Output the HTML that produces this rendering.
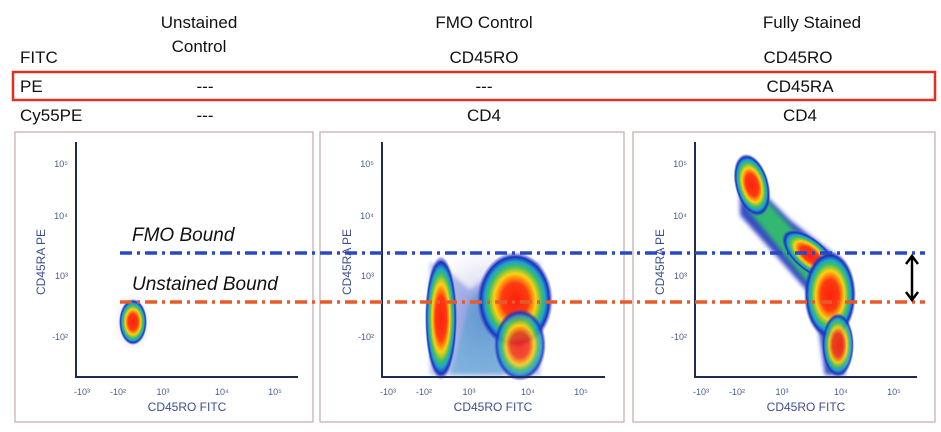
<!DOCTYPE html>
<html><head><meta charset="utf-8"><style>
body{margin:0;background:#fff;width:941px;height:432px;overflow:hidden}
svg{display:block}
.h{font-family:"Liberation Sans",sans-serif;font-size:17px;fill:#111}
.t{font-family:"Liberation Sans",sans-serif;font-size:9px;fill:#4a5a8a}
.a{font-family:"Liberation Sans",sans-serif;font-size:12px;fill:#3d4d90}
.i{font-family:"Liberation Sans",sans-serif;font-size:19px;font-style:italic;fill:#111}
</style></head><body>
<svg width="941" height="432" viewBox="0 0 941 432">
<defs>
<radialGradient id="g"><stop offset="0" stop-color="#ff2010"/><stop offset="0.35" stop-color="#ff3a10"/><stop offset="0.55" stop-color="#ffd010"/><stop offset="0.7" stop-color="#40c060"/><stop offset="0.8" stop-color="#20a0d0"/><stop offset="0.9" stop-color="#1a30c0"/><stop offset="1" stop-color="#3a40c0" stop-opacity="0"/></radialGradient>
<radialGradient id="gb"><stop offset="0" stop-color="#30b090"/><stop offset="0.5" stop-color="#20a0d0"/><stop offset="0.8" stop-color="#2040c0" stop-opacity="0.8"/><stop offset="1" stop-color="#6060c0" stop-opacity="0"/></radialGradient>
<radialGradient id="gl"><stop offset="0" stop-color="#8080d0" stop-opacity="0.6"/><stop offset="1" stop-color="#c0c0e8" stop-opacity="0"/></radialGradient>
<filter id="bl"><feGaussianBlur stdDeviation="2"/></filter>
</defs>
<text class="h" x="199" y="28" text-anchor="middle">Unstained</text>
<text class="h" x="199" y="52" text-anchor="middle">Control</text>
<text class="h" x="484" y="28" text-anchor="middle">FMO Control</text>
<text class="h" x="812" y="28" text-anchor="middle">Fully Stained</text>
<text class="h" x="20" y="63">FITC</text>
<text class="h" x="484" y="63" text-anchor="middle">CD45RO</text>
<text class="h" x="798" y="63" text-anchor="middle">CD45RO</text>
<text class="h" x="20" y="92">PE</text>
<text class="h" x="205" y="92" text-anchor="middle">---</text>
<text class="h" x="484" y="92" text-anchor="middle">---</text>
<text class="h" x="800" y="92" text-anchor="middle">CD45RA</text>
<text class="h" x="20" y="121">Cy55PE</text>
<text class="h" x="205" y="121" text-anchor="middle">---</text>
<text class="h" x="484" y="121" text-anchor="middle">CD4</text>
<text class="h" x="800" y="121" text-anchor="middle">CD4</text>
<rect x="13" y="72" width="922" height="28" fill="none" stroke="#e03020" stroke-width="2.5"/>
<g fill="none" stroke="#c8a8a8" stroke-width="1.2">
<rect x="15" y="132" width="298" height="290"/>
<rect x="320" y="132" width="304" height="290"/>
<rect x="633" y="132" width="302" height="290"/>
</g>
<!-- panel1 -->
<ellipse cx="133" cy="322" rx="19" ry="30" fill="url(#gl)"/>
<ellipse cx="133" cy="322" rx="14" ry="23" fill="url(#g)"/>
<!-- panel2 -->
<ellipse cx="485" cy="315" rx="60" ry="70" fill="url(#gl)"/>
<path d="M445 268L470 290L500 268L540 262V375H430V262Z" fill="#3050c8" opacity="0.35" filter="url(#bl)"/>
<path d="M470 300L500 275L505 375H450Z" fill="#30a0c8" opacity="0.4" filter="url(#bl)"/>
<ellipse cx="441" cy="318" rx="16" ry="62" fill="url(#g)"/>
<ellipse cx="515" cy="300" rx="38" ry="48" fill="url(#g)"/>
<ellipse cx="520" cy="345" rx="26" ry="36" fill="url(#g)" opacity="0.85"/>
<!-- panel3 -->
<path d="M740 170 L790 220 L835 255 L845 300 L845 375 L825 375 L815 300 L780 260 L740 215 Z" fill="#2038c0" filter="url(#bl)" opacity="0.9"/>
<path d="M748 180 L792 228 L830 260 L838 300 L838 370 L830 370 L822 300 L785 255 L748 210 Z" fill="#30b870" filter="url(#bl)"/>
<ellipse cx="752" cy="185" rx="17" ry="32" fill="url(#g)" transform="rotate(-15 752 185)"/>
<ellipse cx="810" cy="255" rx="34" ry="16" fill="url(#g)" transform="rotate(40 810 255)"/>
<ellipse cx="830" cy="295" rx="26" ry="44" fill="url(#g)"/>
<ellipse cx="838" cy="345" rx="16" ry="32" fill="url(#g)" opacity="0.9"/>
<g stroke="#1d2d50" stroke-width="2" fill="none">
<path d="M76 142V377H298"/>
<path d="M382 142V377H605"/>
<path d="M695 142V377H917"/>
</g>
<g id="tk">
<text class="t" x="68" y="167" text-anchor="end">10⁵</text>
<text class="t" x="68" y="219" text-anchor="end">10⁴</text>
<text class="t" x="68" y="279" text-anchor="end">10³</text>
<text class="t" x="68" y="340" text-anchor="end">-10²</text>
<text class="t" x="82" y="395" text-anchor="middle">-10³</text>
<text class="t" x="118" y="395" text-anchor="middle">-10²</text>
<text class="t" x="163" y="395" text-anchor="middle">10³</text>
<text class="t" x="222" y="395" text-anchor="middle">10⁴</text>
<text class="t" x="275" y="395" text-anchor="middle">10⁵</text>
<text class="a" x="187" y="411" text-anchor="middle">CD45RO FITC</text>
<text class="a" transform="translate(45 262) rotate(-90)" text-anchor="middle">CD45RA PE</text>
</g>
<use href="#tk" x="306"/>
<use href="#tk" x="619"/>
<g stroke-width="3.5" stroke-dasharray="12 5 3 5" fill="none">
<path d="M120 253H925" stroke="#2848c8"/>
<path d="M120 302H925" stroke="#e85a2a"/>
</g>
<text class="i" x="132" y="241">FMO Bound</text>
<text class="i" x="132" y="290">Unstained Bound</text>
<g stroke="#000" stroke-width="2.5" fill="none">
<path d="M912 258V298"/><path d="M906 264L912 256L918 264M906 292L912 300L918 292"/>
</g>
</svg>
</body></html>
